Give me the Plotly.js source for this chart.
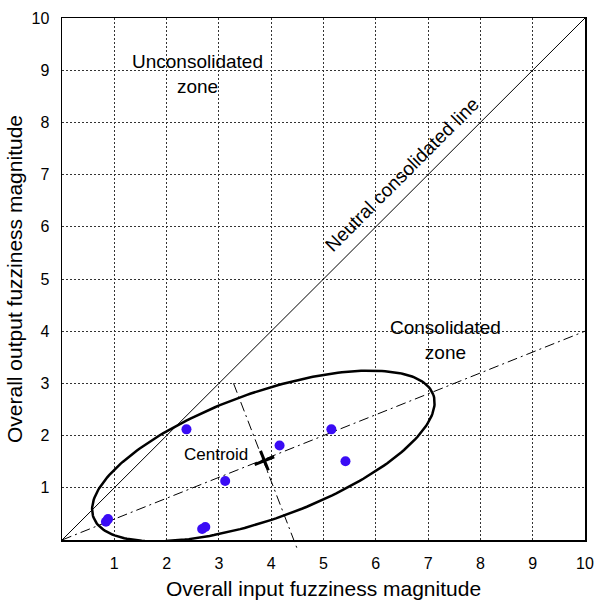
<!DOCTYPE html>
<html>
<head>
<meta charset="utf-8">
<script src="https://cdn.plot.ly/plotly-3.0.1.min.js"></script>
<style>html,body{margin:0;padding:0;background:#fff;}</style>
</head>
<body>
<div id="chart" style="width:597px;height:603px;"></div>
<script>
// Observed points (input fuzziness, output fuzziness)
const pointsX = [0.84, 0.88, 2.38, 2.68, 2.74, 3.12, 4.16, 5.15, 5.42];
const pointsY = [0.35, 0.40, 2.12, 0.21, 0.25, 1.13, 1.81, 2.12, 1.51];
// Centroid
const centroidX = [3.87];
const centroidY = [1.52];
// Reference lines
const neutralX = [0, 10];
const neutralY = [0, 10];
const trendX = [0, 10];
const trendY = [0, 4];
const perpX = [3.28, 4.49];
const perpY = [3.0, -0.15];
// Confidence ellipse parameters
const ellipseCenter = [3.85, 1.61];
const ellipseAxes = [3.455, 1.208];
const ellipseAngleDeg = 19.9;
// Ticks
const tickVals = [1, 2, 3, 4, 5, 6, 7, 8, 9, 10];
const tickText = ['1', '2', '3', '4', '5', '6', '7', '8', '9', '10'];

const th = ellipseAngleDeg * Math.PI / 180;
const ex = [], ey = [];
for (let i = 0; i <= 240; i++) {
  const t = 2 * Math.PI * i / 240;
  ex.push(ellipseCenter[0] + ellipseAxes[0] * Math.cos(th) * Math.cos(t) - ellipseAxes[1] * Math.sin(th) * Math.sin(t));
  ey.push(ellipseCenter[1] + ellipseAxes[0] * Math.sin(th) * Math.cos(t) + ellipseAxes[1] * Math.cos(th) * Math.sin(t));
}

const FONT = 'Liberation Sans, Arial, sans-serif';
const yRange = [0, 10];

const traces = [
  {x: neutralX, y: neutralY, mode: 'lines', line: {color: '#000', width: 1}, hoverinfo: 'skip'},
  {x: trendX, y: trendY, mode: 'lines', line: {color: '#000', width: 1, dash: '10px,4px,2px,4px'}, hoverinfo: 'skip'},
  {x: ex, y: ey, mode: 'lines', line: {color: '#000', width: 2.5}, hoverinfo: 'skip'},
  {x: pointsX, y: pointsY, mode: 'markers', marker: {color: '#3a0cf5', size: 10}, cliponaxis: false},
  {x: centroidX, y: centroidY, mode: 'markers', cliponaxis: false,
   marker: {symbol: 'cross-thin-open', size: 15, angle: -21.8, color: '#000', line: {color: '#000', width: 3}}}
];

const layout = {
  width: 597, height: 603,
  margin: {l: 62, r: 12, t: 18, b: 63},
  showlegend: false,
  paper_bgcolor: '#fff', plot_bgcolor: '#fff',
  font: {family: FONT, color: '#000', size: 16},
  xaxis: {
    range: [0, 10], tickvals: tickVals, ticktext: tickText,
    showgrid: true, gridcolor: '#333', griddash: '2px,2px', gridwidth: 1,
    zeroline: false, showline: true, linecolor: '#000', linewidth: 1.5, mirror: true,
    ticks: '', ticklabelstandoff: 8,
    tickfont: {size: 16, family: FONT},
    title: {text: 'Overall input fuzziness magnitude', font: {size: 21, family: FONT}, standoff: 10}
  },
  yaxis: {
    range: yRange, tickvals: tickVals, ticktext: tickText,
    showgrid: true, gridcolor: '#333', griddash: '2px,2px', gridwidth: 1,
    zeroline: false, showline: true, linecolor: '#000', linewidth: 1.5, mirror: true,
    ticks: '', ticklabelstandoff: 8,
    tickfont: {size: 16, family: FONT},
    title: {text: 'Overall output fuzziness magnitude', font: {size: 21, family: FONT}, standoff: 3}
  },
  shapes: [
    {type: 'line', xref: 'x', yref: 'paper',
     x0: perpX[0], x1: perpX[1],
     y0: (perpY[0] - yRange[0]) / (yRange[1] - yRange[0]),
     y1: (perpY[1] - yRange[0]) / (yRange[1] - yRange[0]),
     line: {color: '#000', width: 1, dash: '10px,4px,2px,4px'}}
  ],
  annotations: [
    {x: 2.6, y: 8.92, xref: 'x', yref: 'y', text: 'Unconsolidated<br>zone', showarrow: false,
     font: {size: 19, family: FONT}, align: 'center'},
    {x: 7.33, y: 3.84, xref: 'x', yref: 'y', text: 'Consolidated<br>zone', showarrow: false,
     font: {size: 19, family: FONT}, align: 'center'},
    {x: 6.5, y: 7.0, xref: 'x', yref: 'y', text: 'Neutral consolidated line', showarrow: false,
     textangle: -45, font: {size: 19, family: FONT}},
    {x: 2.95, y: 1.63, xref: 'x', yref: 'y', text: 'Centroid', showarrow: false,
     font: {size: 17, family: FONT}},
    {x: -0.25, y: -0.27, xref: 'x', yref: 'y', text: '0', showarrow: false,
     font: {size: 16, family: FONT}}
  ]
};

Plotly.newPlot('chart', traces, layout, {displayModeBar: false, staticPlot: true});
</script>
</body>
</html>
